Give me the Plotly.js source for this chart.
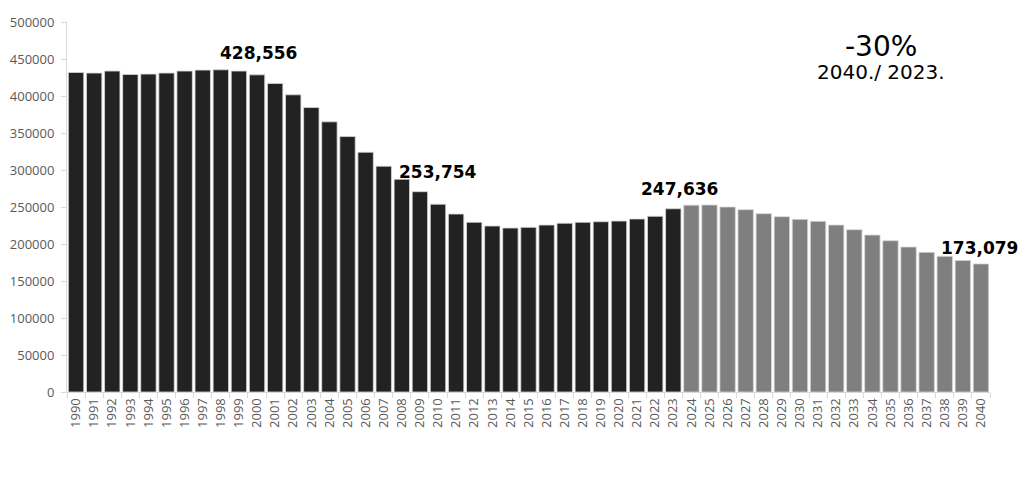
<!DOCTYPE html>
<html>
<head>
<meta charset="utf-8">
<script src="https://cdn.plot.ly/plotly-3.0.1.min.js"></script>
<style>html,body{margin:0;padding:0;background:#fff;}#chart{width:1024px;height:479px;}</style>
</head>
<body>
<div id="chart"></div>
<script>
const years = ["1990","1991","1992","1993","1994","1995","1996","1997","1998","1999","2000","2001","2002","2003","2004","2005","2006","2007","2008","2009","2010","2011","2012","2013","2014","2015","2016","2017","2018","2019","2020","2021","2022","2023","2024","2025","2026","2027","2028","2029","2030","2031","2032","2033","2034","2035","2036","2037","2038","2039","2040"];
const values = [431800,431000,433700,429100,429600,431000,433700,435000,435400,433700,428556,416900,401600,384400,365100,345200,324000,305100,287500,270700,253754,240500,229300,224300,221600,222500,225600,228000,229300,230100,231000,233800,237400,247636,252500,252700,250000,246400,241000,236900,233300,230600,225600,219300,212100,204400,195900,188700,183300,177800,173079];
const lastHistoricalYear = "2023";
const labelledYears = ["2000","2010","2023","2040"];
const labelTexts = ["428,556","253,754","247,636","173,079"];
const changeText = "-30%";
const changeSub = "2040./ 2023.";

const histIdx = years.indexOf(lastHistoricalYear);
const colors = years.map((y,i)=> i<=histIdx ? "#222222" : "#7f7f7f");

const shifts = {"2000":[1,10], "2010":[0,20], "2023":[6,8], "2040":[-1,4]};
const annotations = labelledYears.map((y,k)=>({
  x: years.indexOf(y), y: values[years.indexOf(y)], xref:"x", yref:"y",
  text: "<b>"+labelTexts[k]+"</b>", showarrow:false, yanchor:"bottom", xanchor:"center",
  xshift: shifts[y][0], yshift: shifts[y][1],
  font:{family:"DejaVu Sans, Verdana, sans-serif", size:17, color:"#000"}
}));
annotations.push({xref:"paper", yref:"paper", x:0.882, y:1.0, yanchor:"top", xanchor:"center", yshift:-6, showarrow:false, text:changeText,
  font:{family:"DejaVu Sans, Verdana, sans-serif", size:28, color:"#000"}});
annotations.push({xref:"paper", yref:"paper", x:0.882, y:0.93, yanchor:"top", xanchor:"center", yshift:-10, showarrow:false, text:changeSub,
  font:{family:"DejaVu Sans, Verdana, sans-serif", size:20, color:"#000"}});

Plotly.newPlot("chart", [{
  type:"bar", x:years, y:values,
  marker:{color:colors, line:{color:"#d6d6d6", width:0.8}},
  hoverinfo:"x+y"
}], {
  width:1024, height:479,
  margin:{l:67, r:34, t:22, b:87},
  paper_bgcolor:"#fff", plot_bgcolor:"#fff",
  bargap:0.15,
  showlegend:false,
  xaxis:{type:"category", range:[-0.5, years.length-0.5], tickmode:"linear", dtick:1, tickangle:-90, showgrid:false, showline:true, linecolor:"#d9d9d9", linewidth:1,
    ticks:"outside", tickson:"boundaries", ticklen:5, tickcolor:"#d9d9d9",
    tickfont:{family:"Open Sans, Liberation Sans, sans-serif", size:13, color:"#595959"}},
  yaxis:{range:[0,500000], dtick:50000, tickformat:"d", showgrid:false, zeroline:false, showline:true, linecolor:"#d9d9d9", linewidth:1,
    ticks:"outside", ticklen:5, tickcolor:"#d9d9d9", ticklabelstandoff:4,
    tickfont:{family:"Open Sans, Liberation Sans, sans-serif", size:13, color:"#595959"}},
  annotations: annotations
}, {displayModeBar:false, staticPlot:true});
</script>
</body>
</html>
